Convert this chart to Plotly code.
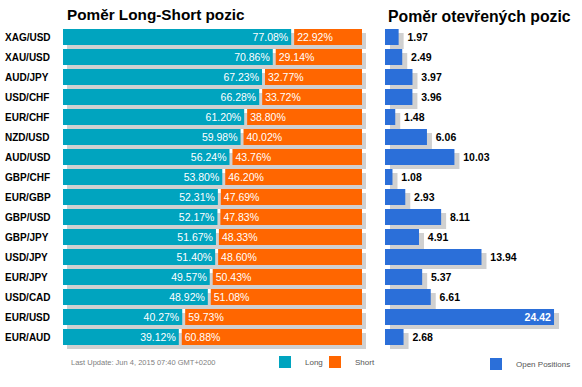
import plotly.graph_objects as go

pairs = ["XAG/USD", "XAU/USD", "AUD/JPY", "USD/CHF", "EUR/CHF", "NZD/USD", "AUD/USD", "GBP/CHF",
         "EUR/GBP", "GBP/USD", "GBP/JPY", "USD/JPY", "EUR/JPY", "USD/CAD", "EUR/USD", "EUR/AUD"]
long_pct = [77.08, 70.86, 67.23, 66.28, 61.20, 59.98, 56.24, 53.80,
            52.31, 52.17, 51.67, 51.40, 49.57, 48.92, 40.27, 39.12]
short_pct = [22.92, 29.14, 32.77, 33.72, 38.80, 40.02, 43.76, 46.20,
             47.69, 47.83, 48.33, 48.60, 50.43, 51.08, 59.73, 60.88]
open_pos = [1.97, 2.49, 3.97, 3.96, 1.48, 6.06, 10.03, 1.08,
            2.93, 8.11, 4.91, 13.94, 5.37, 6.61, 24.42, 2.68]

title_left = "Poměr Long-Short pozic"
title_right = "Poměr otevřených pozic"
update_text = "Last Update: Jun 4, 2015 07:40 GMT+0200"

W, H = 582, 387
FONT = "Liberation Sans, Arial, sans-serif"
C_LONG = "#00A4BF"
C_SHORT = "#FF6600"
C_OPEN = "#2B6FD9"
C_SHADOW = "#D0D0D0"
GAP = 1.0  # white gap between long/short segments (data units)


def px(x):
    return x / W


def py(y):
    return 1 - y / H


fig = go.Figure()

# shadows (drawn first, on separate shifted axes)
fig.add_trace(go.Bar(y=pairs, x=[l + s + GAP for l, s in zip(long_pct, short_pct)], orientation="h",
                     marker=dict(color=C_SHADOW, line=dict(width=0)), xaxis="x", yaxis="y",
                     showlegend=False, hoverinfo="skip"))
fig.add_trace(go.Bar(y=pairs, x=open_pos, orientation="h",
                     marker=dict(color=C_SHADOW, line=dict(width=0)), xaxis="x2", yaxis="y2",
                     showlegend=False, hoverinfo="skip"))

# main bars
fig.add_trace(go.Bar(y=pairs, x=long_pct, orientation="h", name="Long",
                     marker=dict(color=C_LONG, line=dict(width=0)),
                     text=[f"{v:.2f}%" for v in long_pct], textposition="inside",
                     insidetextanchor="end", textangle=0, constraintext="none",
                     insidetextfont=dict(color="white", size=10.5, family=FONT),
                     xaxis="x3", yaxis="y3", legend="legend", hoverinfo="skip"))
fig.add_trace(go.Bar(y=pairs, x=short_pct, base=[l + GAP for l in long_pct], orientation="h", name="Short",
                     marker=dict(color=C_SHORT, line=dict(width=0)),
                     text=[f"{v:.2f}%" for v in short_pct], textposition="inside",
                     insidetextanchor="start", textangle=0, constraintext="none",
                     insidetextfont=dict(color="white", size=10.5, family=FONT),
                     xaxis="x3", yaxis="y3", legend="legend3", hoverinfo="skip"))
vmax = max(open_pos)
fig.add_trace(go.Bar(y=pairs, x=open_pos, orientation="h", name="Open Positions",
                     marker=dict(color=C_OPEN, line=dict(width=0)),
                     text=[f"{v:.2f}" for v in open_pos],
                     texttemplate=[f"<b>{v:.2f}</b>" if v == vmax else f"<b>&nbsp;&nbsp;{v:.2f}</b>"
                                   for v in open_pos],
                     textposition=["inside" if v == vmax else "outside" for v in open_pos],
                     insidetextanchor="end", textangle=0, constraintext="none", cliponaxis=False,
                     insidetextfont=dict(color="white", size=10.5, family=FONT),
                     outsidetextfont=dict(color="black", size=10.5, family=FONT),
                     xaxis="x4", yaxis="y4", legend="legend2", hoverinfo="skip"))

L_RANGE = [0, 100 + GAP]
R_RANGE = [0, 27.45]
ydom_main = [py(347), py(27)]
ydom_shadow = [py(351), py(31)]
hide = dict(showgrid=False, zeroline=False, showticklabels=False, ticks="", showline=False, fixedrange=True)
ycat = dict(type="category", categoryorder="array", categoryarray=pairs, autorange="reversed", **hide)
leg_common = dict(orientation="h", xanchor="left", yanchor="middle",
                  font=dict(size=8, color="#555555", family=FONT), itemwidth=30,
                  bgcolor="rgba(0,0,0,0)", borderwidth=0)

fig.update_layout(
    width=W, height=H, margin=dict(l=0, r=0, t=0, b=0),
    paper_bgcolor="white", plot_bgcolor="rgba(0,0,0,0)",
    barmode="overlay", bargap=0.2,
    font=dict(family=FONT, color="black"),
    xaxis=dict(domain=[px(67), px(366)], range=L_RANGE, anchor="y", **hide),
    yaxis=dict(domain=ydom_shadow, anchor="x", **ycat),
    xaxis2=dict(domain=[px(390), px(580)], range=R_RANGE, anchor="y2", **hide),
    yaxis2=dict(domain=ydom_shadow, anchor="x2", **ycat),
    xaxis3=dict(domain=[px(63), px(362)], range=L_RANGE, anchor="y3", **hide),
    yaxis3=dict(domain=ydom_main, anchor="x3", **ycat),
    xaxis4=dict(domain=[px(385), px(575)], range=R_RANGE, anchor="y4", **hide),
    yaxis4=dict(domain=ydom_main, anchor="x4", **ycat),
    legend=dict(x=px(265), y=py(362), **leg_common),
    legend3=dict(x=px(315), y=py(362), **leg_common),
    legend2=dict(x=px(476), y=py(364), **leg_common),
    showlegend=True,
)

annotations = []
for p in pairs:
    annotations.append(dict(text=f"<b>{p}</b>", x=px(3), y=p, xref="paper", yref="y3",
                            xanchor="left", yanchor="middle", showarrow=False,
                            font=dict(size=10, color="black", family=FONT)))
annotations.append(dict(text=f"<b>{title_left}</b>", x=px(65), y=py(15), xref="paper", yref="paper",
                        xanchor="left", yanchor="middle", showarrow=False,
                        font=dict(size=15.3, color="black", family=FONT)))
annotations.append(dict(text=f"<b>{title_right}</b>", x=px(386), y=py(16), xref="paper", yref="paper",
                        xanchor="left", yanchor="middle", showarrow=False,
                        font=dict(size=15.8, color="black", family=FONT)))
annotations.append(dict(text=update_text, x=px(69), y=py(362), xref="paper", yref="paper",
                        xanchor="left", yanchor="middle", showarrow=False,
                        font=dict(size=7.5, color="#808080", family=FONT)))
fig.update_layout(annotations=annotations)

fig.write_html("out.html", config={"displayModeBar": False},
               post_script="document.body.style.margin='0';document.body.style.overflow='hidden';")
